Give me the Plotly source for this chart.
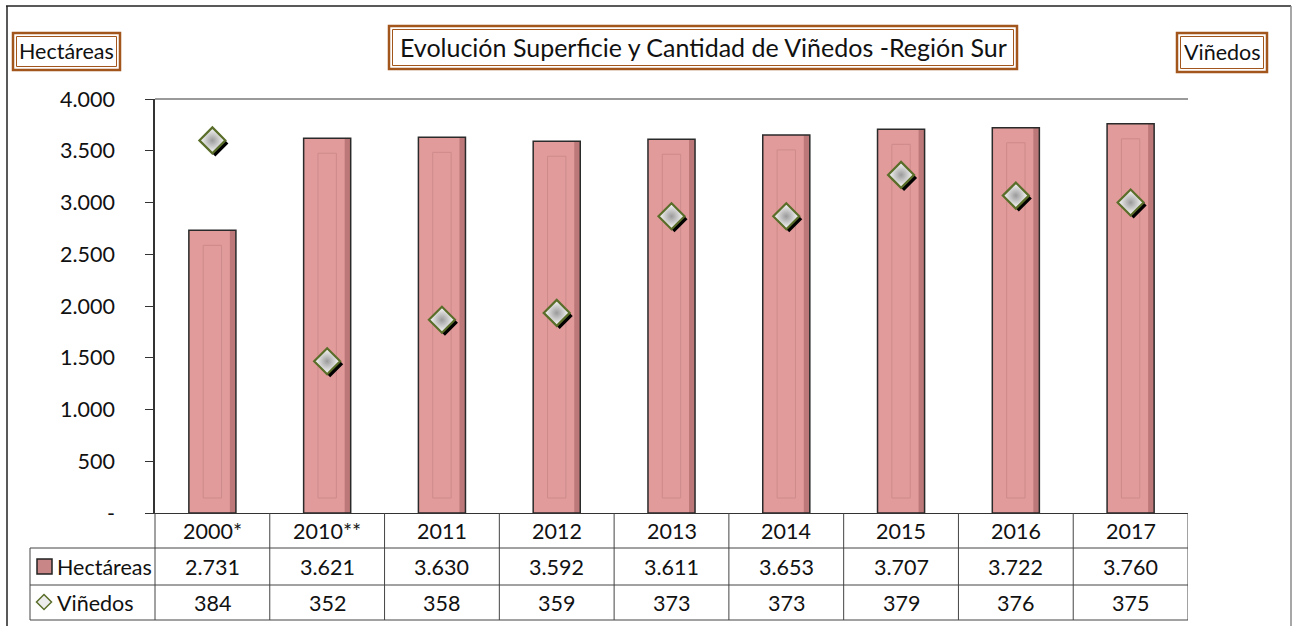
import plotly.graph_objects as go

# ---------------- data ----------------
categories = ["2000*", "2010**", "2011", "2012", "2013", "2014", "2015", "2016", "2017"]
hectareas = [2731, 3621, 3630, 3592, 3611, 3653, 3707, 3722, 3760]
vinedos = [384, 352, 358, 359, 373, 373, 379, 376, 375]
left_ticks = [0, 500, 1000, 1500, 2000, 2500, 3000, 3500, 4000]
left_ticktext = ["-", "500", "1.000", "1.500", "2.000", "2.500", "3.000", "3.500", "4.000"]
right_ticks = [330, 340, 350, 360, 370, 380, 390]

title_text = "Evolución Superficie y Cantidad de Viñedos -Región Sur"
left_title = "Hectáreas"
right_title = "Viñedos"

# ---------------- geometry helpers ----------------
W, H = 1296, 626
L, R, T, B = 155, 1188, 99, 513
ML, MR, MT, MB = L, W - R, T, H - B
PW, PH = R - L, B - T
FONT = "Lato"
TXT = "#111111"
FS = 21.5

def xp(px):
    return (px - L) / PW

def yp(py):
    return (B - py) / PH

n = len(categories)
idx = list(range(n))
colw = PW / n
sx = 3 / colw          # shadow x shift (category units)
sy = 3 * 60 / PH       # shadow y shift (right-axis units)
BW = 0.41              # bar width (category units)

fig = go.Figure()

# bars
fig.add_trace(go.Bar(
    x=idx, y=hectareas, width=BW, name="Hectáreas",
    marker=dict(color="#E19B9B", line=dict(width=0)),
    xaxis="x", yaxis="y", showlegend=False, hoverinfo="skip",
))
# darker shading along the right edge of each bar
shade_w = 6 / colw
fig.add_trace(go.Bar(
    x=idx, y=hectareas, width=shade_w, offset=BW / 2 - shade_w,
    marker=dict(color="rgba(120,55,55,0.35)", line=dict(width=0)),
    xaxis="x", yaxis="y", showlegend=False, hoverinfo="skip",
))
# inner bevel outline of bars
inset = 15 * 4000 / PH
fig.add_trace(go.Bar(
    x=idx, y=[v - 2 * inset for v in hectareas], base=[inset] * n, width=0.16,
    marker=dict(color="rgba(0,0,0,0)", line=dict(color="#CD8A8A", width=1)),
    xaxis="x", yaxis="y", showlegend=False, hoverinfo="skip",
))
# bar outline
fig.add_trace(go.Bar(
    x=idx, y=hectareas, width=BW,
    marker=dict(color="rgba(0,0,0,0)", line=dict(color="#2a2a2a", width=1.5)),
    xaxis="x", yaxis="y", showlegend=False, hoverinfo="skip",
))
# diamond shadow
fig.add_trace(go.Scatter(
    x=idx, y=vinedos, mode="markers", xaxis="x2", yaxis="y3",
    marker=dict(symbol="diamond", size=20, color="#000000", line=dict(width=0)),
    showlegend=False, hoverinfo="skip",
))
# diamonds
fig.add_trace(go.Scatter(
    x=idx, y=vinedos, mode="markers", xaxis="x3", yaxis="y4", name="Viñedos",
    marker=dict(symbol="diamond", size=20, color="#FFFFFF",
                gradient=dict(type="radial", color="#9A9A9A"),
                line=dict(color="#5A6E2A", width=2.2)),
    showlegend=False,
))

xr = [-0.5, n - 0.5]
axcol = "#333333"
fig.update_layout(
    width=W, height=H,
    margin=dict(l=ML, r=MR, t=MT, b=MB, pad=0, autoexpand=False),
    paper_bgcolor="white", plot_bgcolor="white",
    font=dict(family=FONT, size=FS, color=TXT),
    barmode="overlay",
    xaxis=dict(range=xr, showticklabels=False, ticks="", showgrid=False, zeroline=False,
               showline=True, linecolor=axcol, linewidth=1),
    xaxis2=dict(range=[xr[0] - sx, xr[1] - sx], overlaying="x", visible=False),
    xaxis3=dict(range=xr, overlaying="x", visible=False),
    yaxis=dict(range=[0, 4000], tickvals=left_ticks, ticktext=left_ticktext,
               ticks="outside", ticklen=8, tickcolor=axcol, showgrid=False, zeroline=False,
               showline=True, linecolor=axcol, linewidth=1.5, ticklabelstandoff=26,
               automargin=False, tickfont=dict(family=FONT, size=FS, color=TXT)),
    yaxis2=dict(range=[330, 390], tickvals=right_ticks, side="right", overlaying="y",
                ticks="outside", ticklen=8, tickcolor=axcol, showgrid=False, zeroline=False,
                showline=True, linecolor=axcol, linewidth=1.5, ticklabelstandoff=18,
                automargin=False, tickfont=dict(family=FONT, size=FS, color=TXT)),
    yaxis3=dict(range=[330 + sy, 390 + sy], overlaying="y", visible=False),
    yaxis4=dict(range=[330, 390], overlaying="y", visible=False),
)

shapes = []
ann = []

def line(x0, y0, x1, y1, color="#444444", width=1, xref="paper"):
    shapes.append(dict(type="line", xref=xref, yref="paper", x0=x0, y0=y0, x1=x1, y1=y1,
                       line=dict(color=color, width=width)))

# outer chart frame
line(xp(6), yp(6), xp(1291), yp(6), color="#222222", width=1.5)
line(xp(7), yp(6), xp(7), yp(626), color="#222222", width=1.5)
line(xp(1291), yp(6), xp(1291), yp(626), color="#8a8a8a", width=1.5)
# plot area top border
line(0, 1, 1, 1, color="#9a9a9a", width=2)

# data table grid
r1, r2, r3 = 548, 585, 620
for py in (r1, r2, r3):
    line(xp(30), yp(py), 1, yp(py))
line(xp(30), yp(r1), xp(30), yp(r3))
line(0, 0, 0, yp(r3))
for i in range(n):
    shapes.append(dict(type="line", xref="x", yref="paper", x0=i + 0.5, x1=i + 0.5,
                       y0=0, y1=yp(r3), line=dict(color="#444444", width=1)))

# table text
for i, c in enumerate(categories):
    ann.append(dict(x=i, y=yp(531), xref="x", yref="paper", text=c, showarrow=False,
                    yanchor="middle", font=dict(size=FS)))
    ann.append(dict(x=i, y=yp(567), xref="x", yref="paper",
                    text=f"{hectareas[i]:,}".replace(",", "."), showarrow=False,
                    yanchor="middle", font=dict(size=FS)))
    ann.append(dict(x=i, y=yp(603), xref="x", yref="paper", text=str(vinedos[i]),
                    showarrow=False, yanchor="middle", font=dict(size=FS)))

# table legend keys
shapes.append(dict(type="rect", xref="paper", yref="paper", x0=xp(37), x1=xp(52),
                   y0=yp(574), y1=yp(559), fillcolor="#C98686",
                   line=dict(color="#222222", width=1.5)))
cx, cy, r = 44, 602, 7.5
path = (f"M {xp(cx)} {yp(cy - r)} L {xp(cx + r)} {yp(cy)} L {xp(cx)} {yp(cy + r)} "
        f"L {xp(cx - r)} {yp(cy)} Z")
shapes.append(dict(type="path", xref="paper", yref="paper", path=path,
                   fillcolor="#ECECEC", line=dict(color="#5A6E2A", width=1.5)))
ann.append(dict(x=xp(55), y=yp(567), xref="paper", yref="paper", text=left_title,
                showarrow=False, xanchor="left", yanchor="middle", font=dict(size=FS)))
ann.append(dict(x=xp(55), y=yp(603), xref="paper", yref="paper", text=right_title,
                showarrow=False, xanchor="left", yanchor="middle", font=dict(size=FS)))

# boxed titles (double brown border)
BROWN = "#A3561C"

def box(x0, y0, x1, y1, text, size):
    shapes.append(dict(type="rect", xref="paper", yref="paper", x0=xp(x0), x1=xp(x1),
                       y0=yp(y1), y1=yp(y0), fillcolor="white",
                       line=dict(color=BROWN, width=2.5)))
    shapes.append(dict(type="rect", xref="paper", yref="paper", x0=xp(x0 + 3.5),
                       x1=xp(x1 - 3.5), y0=yp(y1 - 3.5), y1=yp(y0 + 3.5),
                       line=dict(color=BROWN, width=1)))
    ann.append(dict(x=xp((x0 + x1) / 2), y=yp((y0 + y1) / 2), xref="paper", yref="paper",
                    text=text, showarrow=False, xanchor="center", yanchor="middle",
                    font=dict(size=size, color=TXT)))

box(389, 26, 1017, 69, title_text, 25)
box(13, 33, 120, 70, left_title, FS)
box(1177, 33, 1267, 72, right_title, FS)

fig.update_layout(shapes=shapes, annotations=ann)
fig.write_html("out.html", config={"displayModeBar": False},
               post_script="document.body.style.margin='0';document.body.style.padding='0';")
